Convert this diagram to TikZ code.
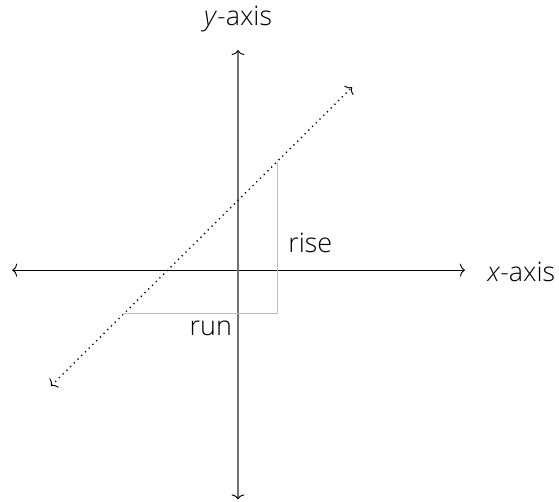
\documentclass[tikz,border=0pt]{standalone}
\usepackage{fontspec}
\setmainfont{Open Sans}[UprightFont=* Light, ItalicFont=* Light Italic]
\usetikzlibrary{positioning,arrows.meta}
\tikzset{
  tip/.tip={To[length=3.6pt,width=9.6pt,line width=0.7pt,color=black]},
  axisline/.style={line width=0.6pt, {tip}-{tip}},
  vaxisline/.style={draw=black!55, line width=1.2pt, {tip}-{tip}},
  slopeline/.style={dash pattern=on 0.9pt off 3pt, line width=1pt, {tip[sep=0pt]}-{tip}},
  legline/.style={draw=black!25, line width=0.6pt},
  lbl/.style={font=\fontsize{20}{22}\selectfont, inner sep=0pt},
}

\begin{document}
\begin{tikzpicture}
\useasboundingbox (-6.22,-6.04) rectangle (8.39,7.06);
% axes
\coordinate (xmin) at (-5.90,0);
\coordinate (xmax) at (5.93,0);
\coordinate (ymin) at (0,-5.99);
\coordinate (ymax) at (0,5.75);
\draw[axisline] (xmin) -- (xmax);
\draw[vaxisline] (ymin) -- (ymax);
\node[lbl, anchor=base west] (xlabel) at (6.52,-0.31) {\textit{x}-axis};
\node[lbl, anchor=south] (ylabel) at (0,6.22) {\textit{y}-axis};
% rise and run
\coordinate (runstart) at (-2.98,-1.12);
\coordinate (corner) at (1.02,-1.12);
\coordinate (riseend) at (1.02,2.82);
\draw[legline] (runstart) -- (corner) -- (riseend);
\node[lbl, anchor=base west] (riselabel) at (1.31,0.47) {rise};
\node[lbl, anchor=base] (runlabel) at (-0.71,-1.70) {run};
% the line
\coordinate (lineA) at (-4.89,-3.03);
\coordinate (lineB) at (2.98,4.78);
\draw[slopeline] (lineA) -- (lineB);
\end{tikzpicture}
\end{document}
